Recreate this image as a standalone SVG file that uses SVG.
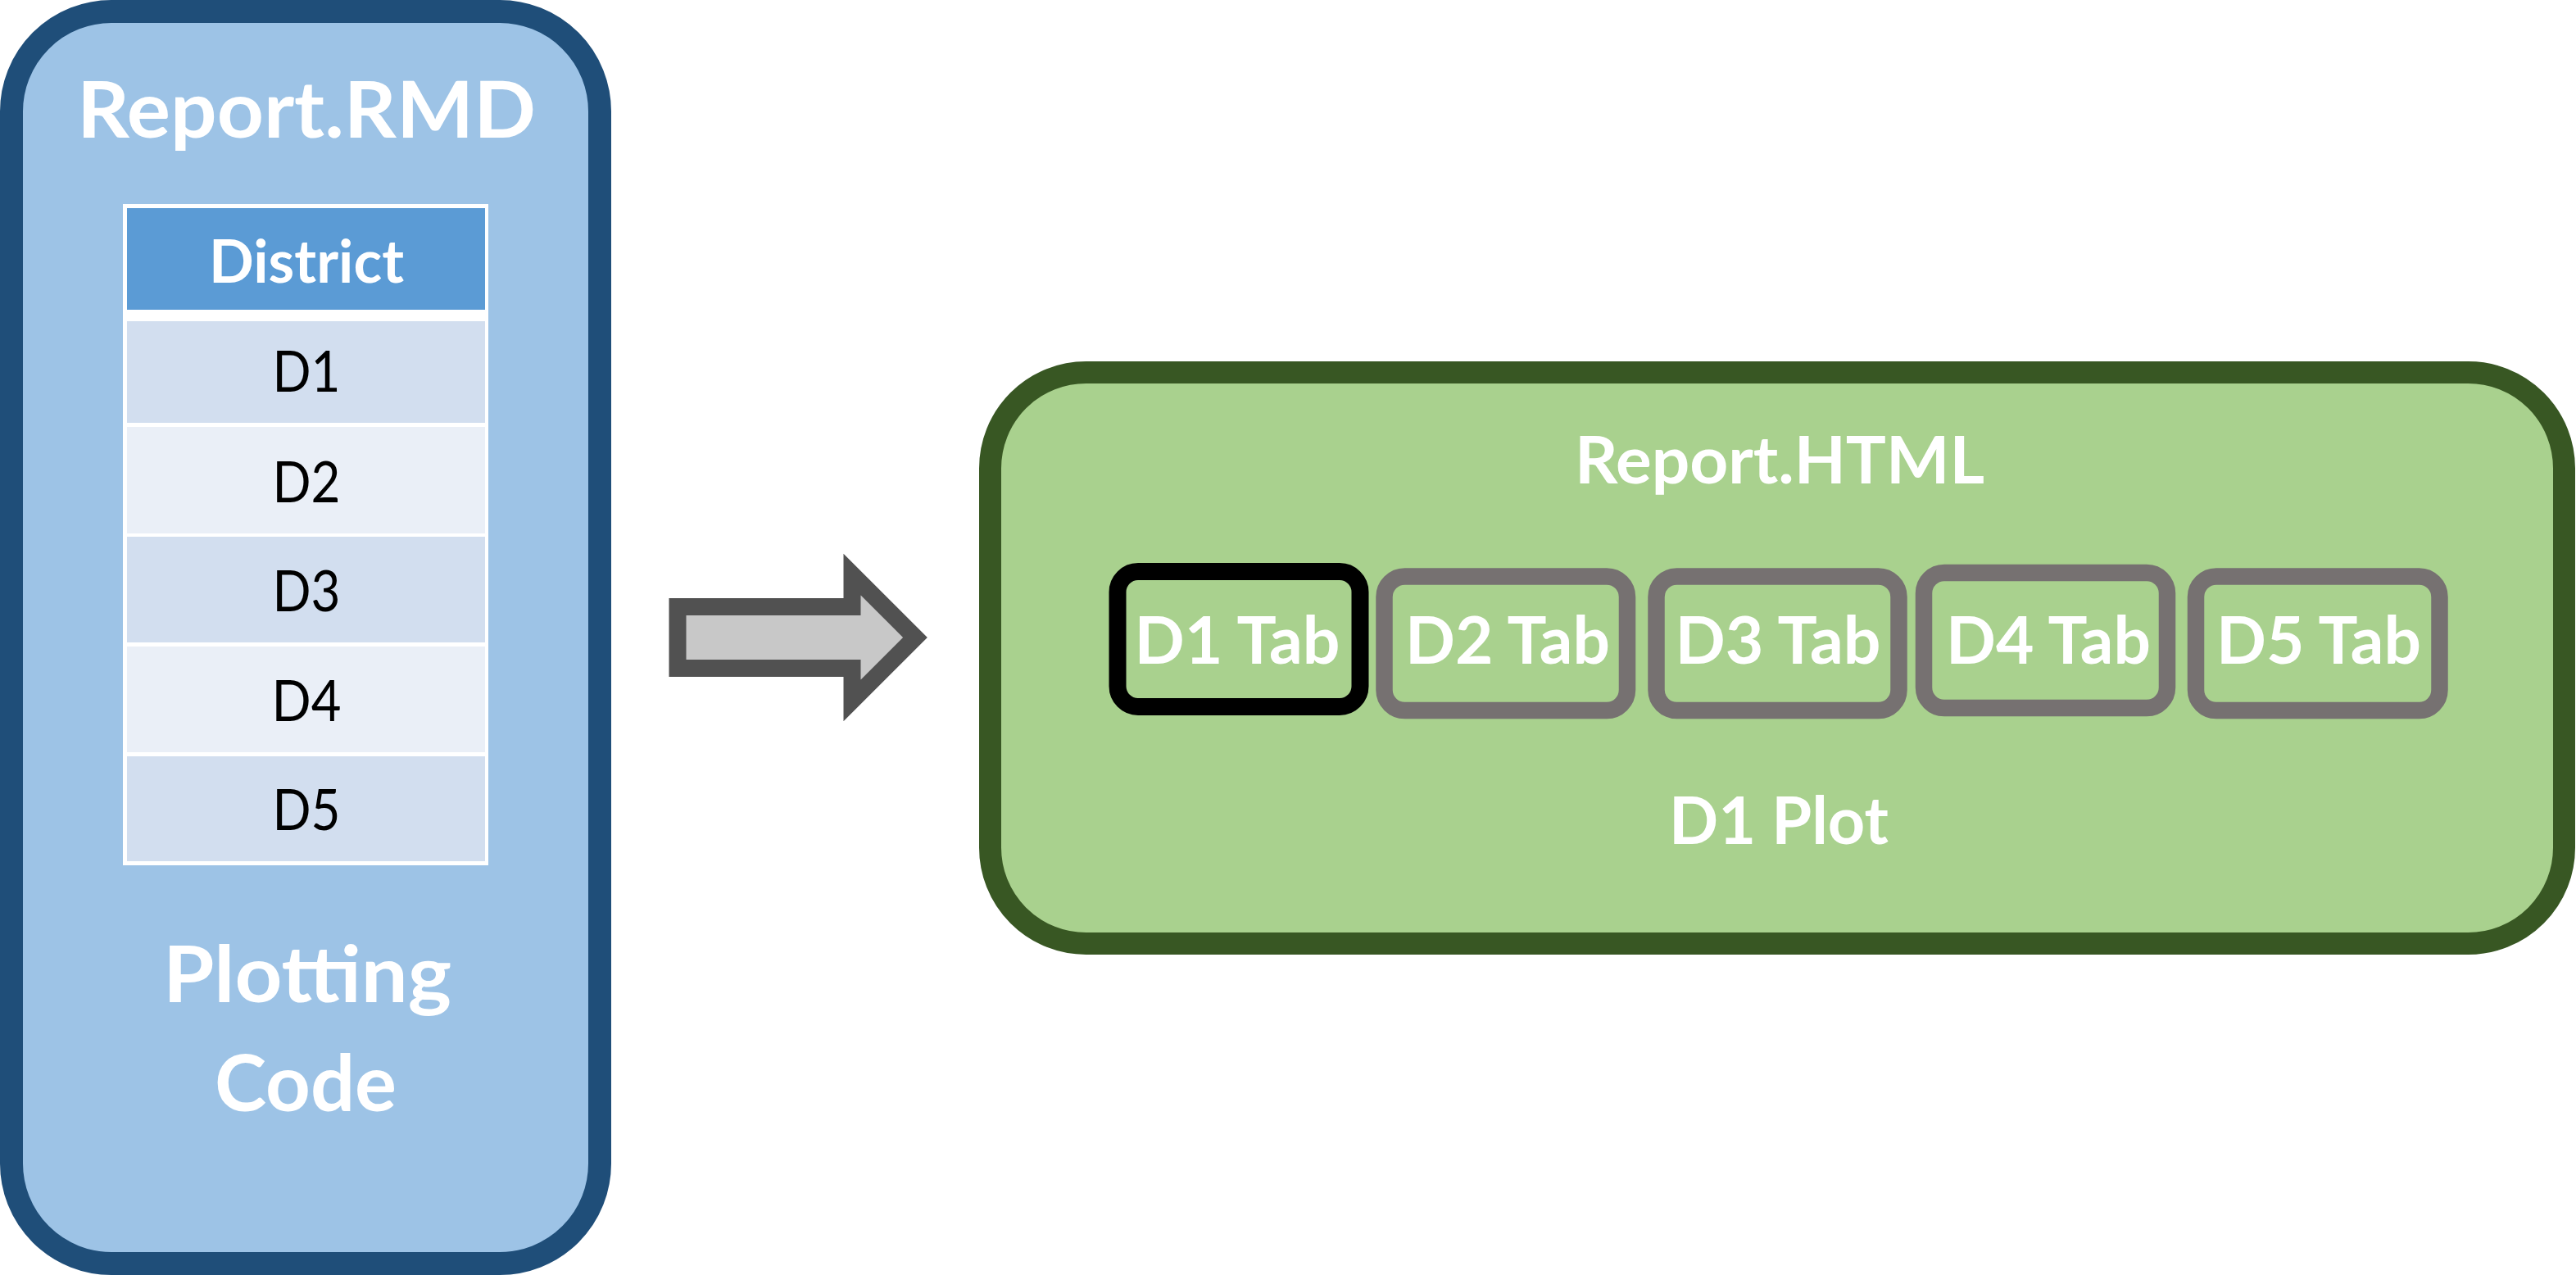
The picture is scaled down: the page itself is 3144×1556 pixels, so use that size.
<svg xmlns="http://www.w3.org/2000/svg" width="3144" height="1556" viewBox="0 0 3144 1556">
<style>
.t{font-family:Lato,"Open Sans","Liberation Sans",sans-serif;text-anchor:middle}
.wb{fill:#ffffff;font-weight:bold}
.cell{fill:#000000;font-weight:normal;font-size:70px}
.tab{fill:#A9D18E;stroke:#767171;stroke-width:20.5}
.tabtxt{font-size:80px}
</style>
<rect x="0" y="0" width="3144" height="1556" fill="#ffffff"/>
<g id="report-rmd">
<rect x="14" y="14" width="718" height="1528" rx="122" ry="122" fill="#9DC3E6" stroke="#1F4E79" stroke-width="28"/>
<text class="t wb" x="374" y="168" font-size="96" textLength="560" lengthAdjust="spacingAndGlyphs">Report.RMD</text>
<g id="district-table">
<rect x="150" y="249" width="446" height="807" fill="#ffffff"/>
<rect x="155" y="254" width="437" height="124" fill="#5B9BD5"/>
<rect x="155" y="392" width="437" height="124" fill="#D2DEEF"/>
<rect x="155" y="521" width="437" height="130" fill="#EAEFF7"/>
<rect x="155" y="655" width="437" height="129" fill="#D2DEEF"/>
<rect x="155" y="789" width="437" height="129" fill="#EAEFF7"/>
<rect x="155" y="923" width="437" height="128" fill="#D2DEEF"/>
<text class="t wb" x="374" y="345" font-size="73" textLength="238" lengthAdjust="spacingAndGlyphs">District</text>
<text class="t cell" x="374" y="478" textLength="83" lengthAdjust="spacingAndGlyphs">D1</text>
<text class="t cell" x="374" y="613" textLength="83" lengthAdjust="spacingAndGlyphs">D2</text>
<text class="t cell" x="374" y="746" textLength="83" lengthAdjust="spacingAndGlyphs">D3</text>
<text class="t cell" x="374" y="880" textLength="85" lengthAdjust="spacingAndGlyphs">D4</text>
<text class="t cell" x="374" y="1013" textLength="83" lengthAdjust="spacingAndGlyphs">D5</text>
</g>
<text class="t wb" x="375" y="1223" font-size="96" textLength="352" lengthAdjust="spacingAndGlyphs">Plotting</text>
<text class="t wb" x="373" y="1356" font-size="96" textLength="222" lengthAdjust="spacingAndGlyphs">Code</text>
</g>
<g id="connectors">
<polygon points="827,740.5 1040,740.5 1040,701 1117,778 1040,855 1040,815.5 827,815.5" fill="#C8C8C8" stroke="#515151" stroke-width="21" stroke-linejoin="miter"/>
</g>
<g id="report-html">
<rect x="1208.5" y="454.5" width="1921" height="697" rx="117" ry="117" fill="#A9D18E" stroke="#385723" stroke-width="27"/>
<text class="t wb" x="2172" y="590" font-size="80" textLength="500" lengthAdjust="spacingAndGlyphs">Report.HTML</text>
<text class="t wb" x="2171" y="1030" font-size="80" textLength="268" lengthAdjust="spacingAndGlyphs">D1 Plot</text>
</g>
<g id="tab-d1">
<rect x="1364" y="697.5" width="296" height="165" rx="25" ry="25" fill="#A9D18E" stroke="#000000" stroke-width="21"/>
<text class="t wb tabtxt" x="1510" y="810" textLength="251" lengthAdjust="spacingAndGlyphs">D1 Tab</text>
</g>
<g id="tab-d2">
<rect class="tab" x="1689.5" y="703.5" width="296.5" height="163.5" rx="25" ry="25"/>
<text class="t wb tabtxt" x="1840" y="810" textLength="250" lengthAdjust="spacingAndGlyphs">D2 Tab</text>
</g>
<g id="tab-d3">
<rect class="tab" x="2021.5" y="703.5" width="296" height="163.5" rx="25" ry="25"/>
<text class="t wb tabtxt" x="2170" y="810" textLength="251" lengthAdjust="spacingAndGlyphs">D3 Tab</text>
</g>
<g id="tab-d4">
<rect class="tab" x="2348" y="699" width="297" height="165" rx="25" ry="25"/>
<text class="t wb tabtxt" x="2500" y="810" textLength="250" lengthAdjust="spacingAndGlyphs">D4 Tab</text>
</g>
<g id="tab-d5">
<rect class="tab" x="2680" y="703.5" width="297.5" height="163.5" rx="25" ry="25"/>
<text class="t wb tabtxt" x="2830" y="810" textLength="250" lengthAdjust="spacingAndGlyphs">D5 Tab</text>
</g>
</svg>
